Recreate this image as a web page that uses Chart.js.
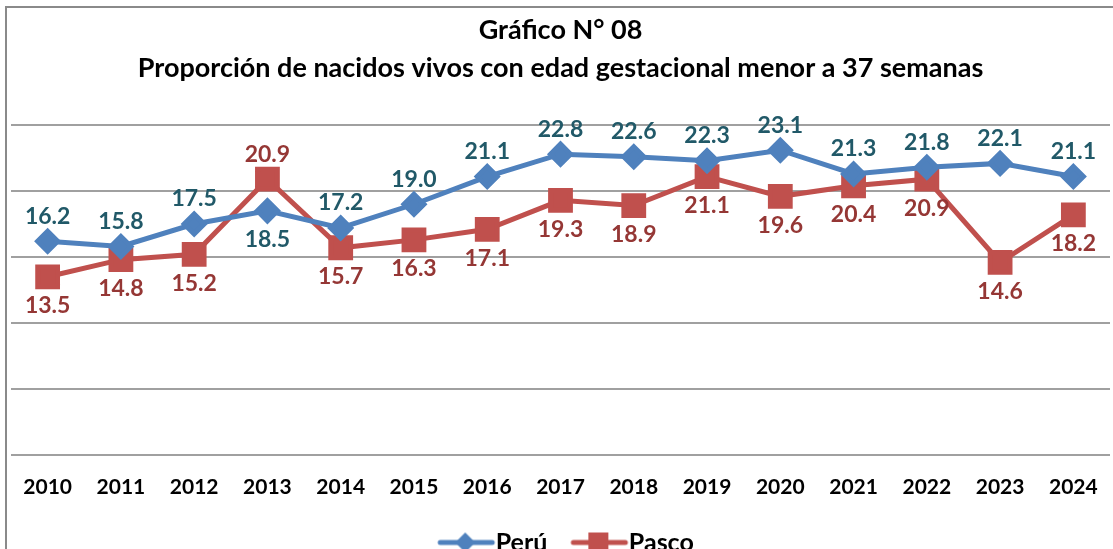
<!DOCTYPE html>
<html>
<head>
<meta charset="utf-8">
<script src="https://cdn.jsdelivr.net/npm/chart.js@4.4.1/dist/chart.umd.min.js"></script>
<style>
  html, body { margin: 0; padding: 0; background: #fff; }
  #wrap { width: 1113px; height: 549px; position: relative; }
</style>
</head>
<body>
<div id="wrap"><canvas id="chart"></canvas></div>
<script>
// data
const years = ['2010', '2011', '2012', '2013', '2014', '2015', '2016', '2017', '2018', '2019', '2020', '2021', '2022', '2023', '2024'];
const peru = [16.2, 15.8, 17.5, 18.5, 17.2, 19.0, 21.1, 22.8, 22.6, 22.3, 23.1, 21.3, 21.8, 22.1, 21.1];
const pasco = [13.5, 14.8, 15.2, 20.9, 15.7, 16.3, 17.1, 19.3, 18.9, 21.1, 19.6, 20.4, 20.9, 14.6, 18.2];
// where each value label sits: 'a' above, 'b' below
const peruLabelPos = ['a', 'a', 'a', 'b', 'a', 'a', 'a', 'a', 'a', 'a', 'a', 'a', 'a', 'a', 'a'];
const pascoLabelPos = ['b', 'b', 'b', 'a', 'b', 'b', 'b', 'b', 'b', 'b', 'b', 'b', 'b', 'b', 'b'];
const yTicks = [0, 5, 10, 15, 20, 25];

const FONT = 'Lato, "Open Sans", sans-serif';
const BLUE = '#4F81BD';
const RED = '#C0504D';

// legend swatch: line with the marker on it (drawn right of centre to close the text gap)
function swatch(color, shape) {
    const c = document.createElement('canvas');
    c.width = 84; c.height = 22;
    const g = c.getContext('2d');
    g.strokeStyle = color;
    g.lineWidth = 5;
    g.lineCap = 'round';
    g.beginPath(); g.moveTo(27, 11); g.lineTo(79, 11); g.stroke();
    g.fillStyle = color;
    if (shape === 'diamond') {
        g.beginPath(); g.moveTo(52, 1); g.lineTo(62, 11); g.lineTo(52, 21); g.lineTo(42, 11); g.closePath(); g.fill();
    } else {
        g.fillRect(42, 1, 20, 20);
    }
    return c;
}
const legendIcons = [swatch(BLUE, 'diamond'), swatch(RED, 'square')];

// value labels next to each point
const valueLabels = {
    id: 'valueLabels',
    afterDatasetsDraw(chart) {
        const ctx = chart.ctx;
        const posSets = [peruLabelPos, pascoLabelPos];
        const colors = ['#215968', '#953735'];
        ctx.save();
        ctx.font = 'bold 23px ' + FONT;
        ctx.textAlign = 'center';
        ctx.textBaseline = 'middle';
        chart.data.datasets.forEach((ds, i) => {
            const meta = chart.getDatasetMeta(i);
            ctx.fillStyle = colors[i];
            meta.data.forEach((pt, j) => {
                const dy = posSets[i][j] === 'a' ? -25 : 29;
                ctx.fillText(ds.data[j].toFixed(1), pt.x, pt.y + dy);
            });
        });
        ctx.restore();
    }
};

// outer frame of the chart box
const frame = {
    id: 'frame',
    beforeDraw(chart) {
        const ctx = chart.ctx;
        ctx.save();
        ctx.fillStyle = '#fff';
        ctx.fillRect(0, 0, chart.width, chart.height);
        ctx.strokeStyle = '#8a8a8a';
        ctx.lineWidth = 2;
        ctx.beginPath();
        ctx.moveTo(6, chart.height);
        ctx.lineTo(6, 7);
        ctx.lineTo(chart.width, 7);
        ctx.stroke();
        ctx.restore();
    }
};

new Chart(document.getElementById('chart'), {
    type: 'line',
    data: {
        labels: years,
        datasets: [{
            label: 'Perú',
            data: peru,
            borderColor: BLUE,
            backgroundColor: BLUE,
            borderWidth: 5,
            pointStyle: 'rectRot',
            pointRadius: 10,
            pointHoverRadius: 10,
            tension: 0
        }, {
            label: 'Pasco',
            data: pasco,
            borderColor: RED,
            backgroundColor: RED,
            borderWidth: 5,
            pointStyle: 'rect',
            pointRadius: 14,
            pointHoverRadius: 14,
            tension: 0
        }]
    },
    options: {
        responsive: true,
        maintainAspectRatio: false,
        animation: false,
        layout: { autoPadding: false, padding: { left: 11, right: 3, top: 0, bottom: -16 } },
        scales: {
            x: {
                offset: true,
                grid: { display: false, drawTicks: true, tickLength: 20 },
                border: { display: false },
                ticks: { color: '#000', font: { family: FONT, size: 21, weight: 'bold' }, padding: 0 },
                afterFit(scale) { scale.height += 17; }
            },
            y: {
                min: 0,
                max: 25,
                afterBuildTicks(scale) { scale.ticks = yTicks.map(v => ({ value: v })); },
                grid: { color: '#a0a0a0', lineWidth: 2, drawTicks: false },
                border: { display: false },
                ticks: { display: false }
            }
        },
        plugins: {
            title: {
                display: true,
                text: ['Gráfico N° 08', 'Proporción de nacidos vivos con edad gestacional menor a 37 semanas'],
                color: '#000',
                font: { family: FONT, size: 27, weight: 'bold', lineHeight: 1.41 },
                padding: { top: 11, bottom: 38 }
            },
            legend: {
                position: 'bottom',
                labels: {
                    color: '#000',
                    font: { family: FONT, size: 25, weight: 'bold' },
                    usePointStyle: true,
                    pointStyleWidth: 56,
                    boxHeight: 22,
                    padding: 13,
                    generateLabels(chart) {
                        const items = Chart.defaults.plugins.legend.labels.generateLabels(chart);
                        items.forEach((it, i) => { it.pointStyle = legendIcons[i]; });
                        return items;
                    }
                }
            },
            tooltip: { enabled: false }
        }
    },
    plugins: [frame, valueLabels]
});
</script>
</body>
</html>
